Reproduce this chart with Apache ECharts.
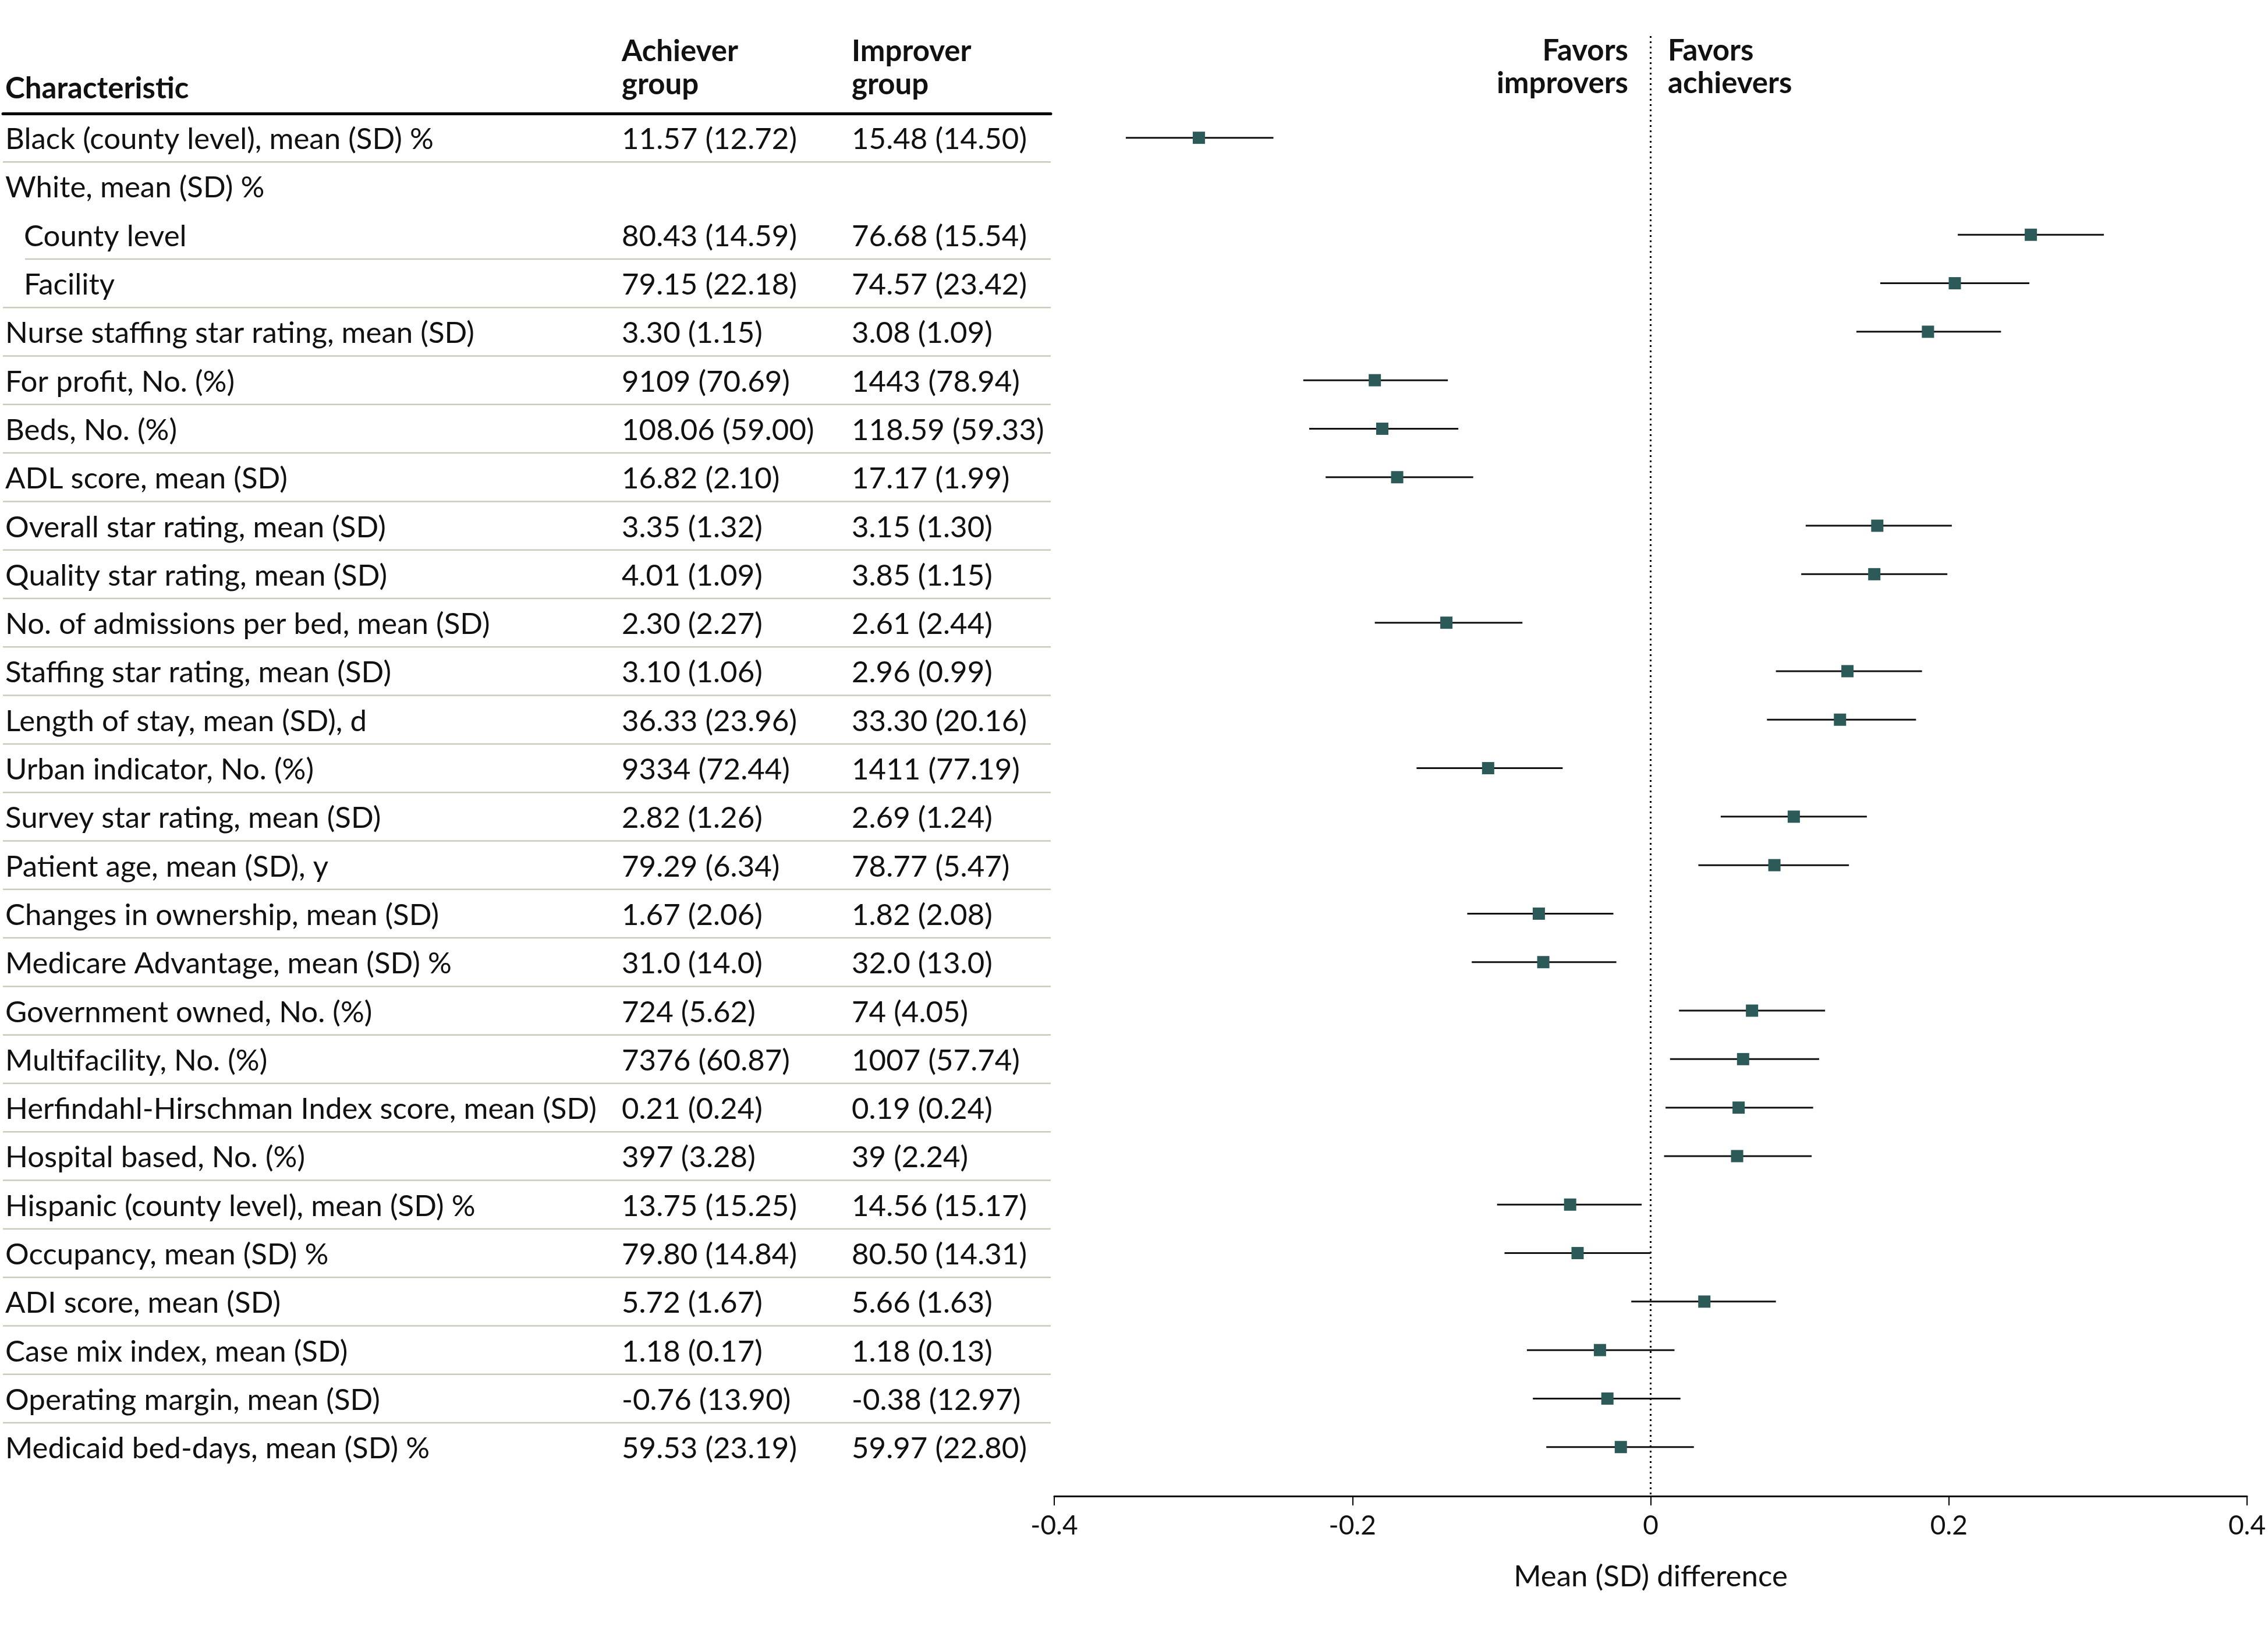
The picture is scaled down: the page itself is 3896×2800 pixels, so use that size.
<!DOCTYPE html>
<html>
<head>
<meta charset="utf-8">
<script src="https://cdn.jsdelivr.net/npm/echarts@6/dist/echarts.min.js"></script>
<style>
html,body{margin:0;padding:0;background:#fff;}
#chart{width:3896px;height:2800px;}
</style>
</head>
<body>
<div id="chart"></div>
<script>
// ---------------- DATA ----------------
const characteristics = [
  "Black (county level), mean (SD) %",
  "White, mean (SD) %",
  "County level",
  "Facility",
  "Nurse staffing star rating, mean (SD)",
  "For profit, No. (%)",
  "Beds, No. (%)",
  "ADL score, mean (SD)",
  "Overall star rating, mean (SD)",
  "Quality star rating, mean (SD)",
  "No. of admissions per bed, mean (SD)",
  "Staffing star rating, mean (SD)",
  "Length of stay, mean (SD), d",
  "Urban indicator, No. (%)",
  "Survey star rating, mean (SD)",
  "Patient age, mean (SD), y",
  "Changes in ownership, mean (SD)",
  "Medicare Advantage, mean (SD) %",
  "Government owned, No. (%)",
  "Multifacility, No. (%)",
  "Herfindahl-Hirschman Index score, mean (SD)",
  "Hospital based, No. (%)",
  "Hispanic (county level), mean (SD) %",
  "Occupancy, mean (SD) %",
  "ADI score, mean (SD)",
  "Case mix index, mean (SD)",
  "Operating margin, mean (SD)",
  "Medicaid bed-days, mean (SD) %"
];
const isSubRow = [false,false,true,true,false,false,false,false,false,false,false,false,false,false,
  false,false,false,false,false,false,false,false,false,false,false,false,false,false];
const achieverGroup = ["11.57 (12.72)","","80.43 (14.59)","79.15 (22.18)","3.30 (1.15)","9109 (70.69)",
  "108.06 (59.00)","16.82 (2.10)","3.35 (1.32)","4.01 (1.09)","2.30 (2.27)","3.10 (1.06)","36.33 (23.96)",
  "9334 (72.44)","2.82 (1.26)","79.29 (6.34)","1.67 (2.06)","31.0 (14.0)","724 (5.62)","7376 (60.87)",
  "0.21 (0.24)","397 (3.28)","13.75 (15.25)","79.80 (14.84)","5.72 (1.67)","1.18 (0.17)","-0.76 (13.90)",
  "59.53 (23.19)"];
const improverGroup = ["15.48 (14.50)","","76.68 (15.54)","74.57 (23.42)","3.08 (1.09)","1443 (78.94)",
  "118.59 (59.33)","17.17 (1.99)","3.15 (1.30)","3.85 (1.15)","2.61 (2.44)","2.96 (0.99)","33.30 (20.16)",
  "1411 (77.19)","2.69 (1.24)","78.77 (5.47)","1.82 (2.08)","32.0 (13.0)","74 (4.05)","1007 (57.74)",
  "0.19 (0.24)","39 (2.24)","14.56 (15.17)","80.50 (14.31)","5.66 (1.63)","1.18 (0.13)","-0.38 (12.97)",
  "59.97 (22.80)"];
const meanDiff = [-0.303,null,0.255,0.204,0.186,-0.185,-0.180,-0.170,0.152,0.150,-0.137,0.132,0.127,
  -0.109,0.096,0.083,-0.075,-0.072,0.068,0.062,0.059,0.058,-0.054,-0.049,0.036,-0.034,-0.029,-0.020];
const ciLower = [-0.352,null,0.206,0.154,0.138,-0.233,-0.229,-0.218,0.104,0.101,-0.185,0.084,0.078,
  -0.157,0.047,0.032,-0.123,-0.120,0.019,0.013,0.010,0.009,-0.103,-0.098,-0.013,-0.083,-0.079,-0.070];
const ciUpper = [-0.253,null,0.304,0.254,0.235,-0.136,-0.129,-0.119,0.202,0.199,-0.086,0.182,0.178,
  -0.059,0.145,0.133,-0.025,-0.023,0.117,0.113,0.109,0.108,-0.006,0.000,0.084,0.016,0.020,0.029];
const xTickValues = [-0.4,-0.2,0,0.2,0.4];
const headerCharacteristic = "Characteristic";
const headerAchiever = "Achiever\ngroup";
const headerImprover = "Improver\ngroup";
const favorsLeft = "Favors\nimprovers";
const favorsRight = "Favors\nachievers";
const xAxisTitle = "Mean (SD) difference";

// ---------------- LAYOUT ----------------
const W = 3896, H = 2800;
const FONT = 'Lato';
const FS = 51, FS_TICK = 46;
const TXT = '#111';
const MARK = '#2b5a58';
const SEP = '#c8cbb9';
const n = characteristics.length;
const ROW_TOP = 195, ROW_H = 83.3;
const TABLE_LEFT = 5, TABLE_RIGHT_X = 1805;
const COL2_X = 1068, COL3_X = 1463;
const PLOT_LEFT = 1811, PLOT_RIGHT_X = 3860;
const PLOT_TOP = 62, PLOT_BOTTOM_Y = 2570;
const yMin = -(ROW_TOP + ROW_H / 2 - PLOT_TOP) / ROW_H;
const yMax = yMin + (PLOT_BOTTOM_Y - PLOT_TOP) / ROW_H;

const ciData = [], ptData = [];
for (let i = 0; i < n; i++) {
  if (meanDiff[i] !== null) {
    ciData.push([ciLower[i], ciUpper[i], i]);
    ptData.push([meanDiff[i], i]);
  }
}
const sepData = [];
for (let i = 0; i < n - 1; i++) {
  const isGroupHeader = !isSubRow[i] && isSubRow[i + 1];
  if (!isGroupHeader) sepData.push([0, i]);
}

const labelBase = { fontFamily: FONT, fontSize: FS, color: TXT };

function tableYAxis(offset, fmt) {
  return {
    type: 'category', gridIndex: 0, data: characteristics, inverse: true,
    position: 'left', offset: offset,
    axisLine: { show: false }, axisTick: { show: false }, splitLine: { show: false },
    axisLabel: Object.assign({
      show: true, inside: true, margin: 4, interval: 0, align: 'left',
      padding: [6, 0, 0, 0],
      formatter: fmt,
      rich: { sub: Object.assign({ padding: [0, 0, 0, 32] }, labelBase) }
    }, labelBase)
  };
}

const option = {
  animation: false,
  backgroundColor: '#fff',
  textStyle: { fontFamily: FONT, color: TXT },
  title: [
    { text: headerCharacteristic, left: 9, top: 124, padding: 0,
      textStyle: { fontFamily: FONT, fontSize: FS, fontWeight: 'bold', color: TXT, lineHeight: 58 } },
    { text: headerAchiever, left: COL2_X, top: 60, padding: 0,
      textStyle: { fontFamily: FONT, fontSize: FS, fontWeight: 'bold', color: TXT, lineHeight: 57 } },
    { text: headerImprover, left: COL3_X, top: 60, padding: 0,
      textStyle: { fontFamily: FONT, fontSize: FS, fontWeight: 'bold', color: TXT, lineHeight: 57 } },
    { text: favorsLeft, left: 2797, top: 60, padding: 0, textAlign: 'right',
      textStyle: { fontFamily: FONT, fontSize: FS, fontWeight: 'bold', color: TXT, lineHeight: 56, align: 'right' } },
    { text: favorsRight, left: 2865, top: 60, padding: 0, textAlign: 'left',
      textStyle: { fontFamily: FONT, fontSize: FS, fontWeight: 'bold', color: TXT, lineHeight: 56 } }
  ],
  grid: [
    { left: TABLE_LEFT, top: ROW_TOP, width: TABLE_RIGHT_X - TABLE_LEFT, height: n * ROW_H,
      containLabel: false, outerBoundsMode: 'none' },
    { left: PLOT_LEFT, top: PLOT_TOP, width: PLOT_RIGHT_X - PLOT_LEFT, height: PLOT_BOTTOM_Y - PLOT_TOP,
      containLabel: false, outerBoundsMode: 'none' }
  ],
  xAxis: [
    { type: 'value', gridIndex: 0, min: 0, max: 1, position: 'top',
      axisLine: { show: true, lineStyle: { color: '#000', width: 5 } },
      axisTick: { show: false }, axisLabel: { show: false }, splitLine: { show: false } },
    { type: 'value', gridIndex: 1, min: -0.4, max: 0.4, interval: 0.2, position: 'bottom',
      axisLine: { show: true, onZero: false, lineStyle: { color: '#000', width: 3 } },
      axisTick: { show: true, inside: false, length: 16, lineStyle: { color: '#000', width: 2 } },
      splitLine: { show: false },
      axisLabel: { show: true, margin: 28, fontFamily: FONT, fontSize: FS_TICK, color: TXT,
        formatter: v => (Math.abs(v) < 1e-9 ? '0' : v.toFixed(1)) },
      name: xAxisTitle, nameLocation: 'middle', nameGap: 113,
      nameTextStyle: { fontFamily: FONT, fontSize: FS, color: TXT } }
  ],
  yAxis: [
    tableYAxis(0, (v, i) => isSubRow[i] ? '{sub|' + v + '}' : v),
    tableYAxis(-(COL2_X - TABLE_LEFT - 4), (v, i) => achieverGroup[i]),
    tableYAxis(-(COL3_X - TABLE_LEFT - 4), (v, i) => improverGroup[i]),
    { type: 'value', gridIndex: 1, inverse: true, min: yMin, max: yMax, show: false,
      splitLine: { show: false } }
  ],
  series: [
    {
      type: 'custom', name: 'separators', xAxisIndex: 0, yAxisIndex: 0, silent: true,
      data: sepData, encode: { x: 0, y: 1 }, clip: false,
      renderItem: function (params, api) {
        const i = api.value(1);
        const a = api.coord([0, i]);
        const b = api.coord([0, i + 1]);
        const r = api.coord([1, i]);
        const indent = (isSubRow[i] && isSubRow[i + 1]) ? 38 : 0;
        const y = (a[1] + b[1]) / 2;
        return { type: 'line', shape: { x1: a[0] + indent, y1: y, x2: r[0], y2: y },
          style: { stroke: SEP, lineWidth: 2.5 } };
      }
    },
    {
      type: 'custom', name: 'ci', xAxisIndex: 1, yAxisIndex: 3, silent: true,
      data: ciData, encode: { x: [0, 1], y: 2 }, z: 3,
      renderItem: function (params, api) {
        const p1 = api.coord([api.value(0), api.value(2)]);
        const p2 = api.coord([api.value(1), api.value(2)]);
        return { type: 'line', shape: { x1: p1[0], y1: p1[1], x2: p2[0], y2: p2[1] },
          style: { stroke: '#111', lineWidth: 3 } };
      }
    },
    {
      type: 'scatter', name: 'mean difference', xAxisIndex: 1, yAxisIndex: 3, silent: true,
      data: ptData, symbol: 'rect', symbolSize: 21, z: 4,
      itemStyle: { color: MARK, opacity: 1 },
      markLine: {
        silent: true, symbol: 'none', label: { show: false }, z: 2,
        lineStyle: { color: '#000', width: 3, type: [3, 6] },
        data: [{ xAxis: 0 }]
      }
    }
  ]
};

const chart = echarts.init(document.getElementById('chart'), null, { renderer: 'canvas', width: W, height: H });
chart.setOption(option);
</script>
</body>
</html>
